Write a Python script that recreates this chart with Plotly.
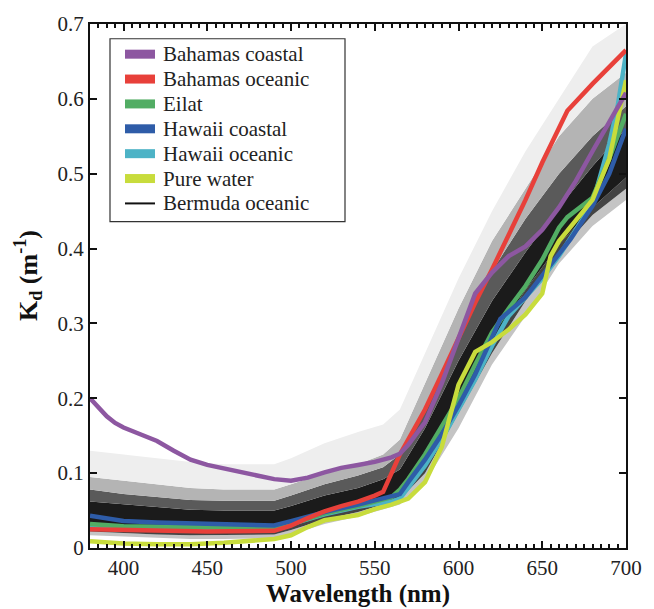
import plotly.graph_objects as go

# ---------------- data ----------------
wl_bermuda = [380, 400, 420, 440, 460, 490, 500, 520, 540, 555, 565, 580, 600, 620, 640, 660, 680, 700]
bermuda_min = [0.017, 0.015, 0.013, 0.012, 0.012, 0.013, 0.018, 0.032, 0.042, 0.052, 0.058, 0.088, 0.160, 0.245, 0.310, 0.380, 0.430, 0.465]
bermuda_p05 = [0.022, 0.020, 0.018, 0.017, 0.017, 0.018, 0.024, 0.038, 0.048, 0.058, 0.065, 0.100, 0.180, 0.260, 0.330, 0.395, 0.445, 0.480]
bermuda_p25 = [0.030, 0.028, 0.026, 0.025, 0.025, 0.025, 0.031, 0.045, 0.055, 0.066, 0.075, 0.115, 0.195, 0.275, 0.345, 0.405, 0.455, 0.495]
bermuda_p75 = [0.062, 0.058, 0.054, 0.051, 0.050, 0.050, 0.056, 0.070, 0.080, 0.092, 0.105, 0.160, 0.250, 0.330, 0.395, 0.455, 0.510, 0.560]
bermuda_p90 = [0.078, 0.072, 0.068, 0.064, 0.063, 0.063, 0.070, 0.085, 0.097, 0.108, 0.125, 0.190, 0.285, 0.370, 0.440, 0.500, 0.550, 0.590]
bermuda_p97 = [0.095, 0.090, 0.085, 0.080, 0.078, 0.078, 0.085, 0.100, 0.112, 0.125, 0.145, 0.220, 0.320, 0.410, 0.480, 0.550, 0.600, 0.635]
bermuda_max = [0.130, 0.125, 0.120, 0.115, 0.112, 0.112, 0.120, 0.140, 0.155, 0.165, 0.185, 0.260, 0.360, 0.450, 0.530, 0.600, 0.670, 0.700]

wl_bah_coastal = [380, 385, 390, 395, 400, 410, 420, 430, 440, 450, 460, 470, 480, 490, 500, 510, 520, 530, 540, 550, 560, 565, 570, 580, 590, 600, 610, 620, 630, 640, 650, 660, 670, 680, 690, 700]
bah_coastal = [0.200, 0.188, 0.176, 0.167, 0.161, 0.152, 0.143, 0.130, 0.118, 0.111, 0.106, 0.101, 0.096, 0.092, 0.090, 0.094, 0.101, 0.107, 0.111, 0.115, 0.121, 0.126, 0.138, 0.168, 0.220, 0.280, 0.340, 0.368, 0.390, 0.403, 0.425, 0.455, 0.490, 0.530, 0.570, 0.608]

wl_bah_oceanic = [380, 400, 450, 490, 500, 510, 520, 530, 540, 550, 555, 565, 580, 590, 600, 610, 620, 630, 640, 650, 665, 680, 690, 700]
bah_oceanic = [0.025, 0.024, 0.022, 0.023, 0.030, 0.040, 0.049, 0.056, 0.062, 0.070, 0.075, 0.125, 0.185, 0.232, 0.280, 0.328, 0.372, 0.418, 0.465, 0.515, 0.584, 0.620, 0.643, 0.665]

wl_eilat = [380, 400, 450, 490, 500, 520, 540, 560, 565, 570, 580, 590, 600, 610, 620, 630, 640, 650, 660, 665, 680, 690, 700]
eilat = [0.032, 0.029, 0.028, 0.026, 0.032, 0.046, 0.056, 0.068, 0.078, 0.092, 0.125, 0.162, 0.200, 0.245, 0.288, 0.320, 0.350, 0.385, 0.428, 0.442, 0.468, 0.520, 0.580]

wl_hawaii_coastal = [380, 390, 400, 420, 450, 490, 500, 520, 540, 560, 565, 570, 580, 590, 600, 610, 620, 625, 640, 655, 667, 680, 690, 700]
hawaii_coastal = [0.043, 0.039, 0.036, 0.034, 0.032, 0.030, 0.036, 0.048, 0.058, 0.068, 0.072, 0.088, 0.118, 0.152, 0.190, 0.232, 0.280, 0.306, 0.335, 0.378, 0.413, 0.457, 0.500, 0.560]

wl_hawaii_oceanic = [380, 400, 450, 490, 500, 520, 540, 560, 565, 570, 580, 590, 600, 610, 620, 630, 640, 650, 660, 670, 680, 690, 695, 700]
hawaii_oceanic = [0.030, 0.028, 0.027, 0.025, 0.032, 0.045, 0.055, 0.062, 0.066, 0.080, 0.110, 0.145, 0.185, 0.225, 0.270, 0.310, 0.335, 0.360, 0.390, 0.425, 0.460, 0.540, 0.590, 0.660]

wl_pure = [380, 390, 400, 420, 440, 460, 480, 490, 500, 510, 520, 530, 540, 550, 560, 570, 580, 590, 600, 610, 620, 630, 640, 650, 655, 660, 670, 680, 690, 700]
pure_water = [0.009, 0.007, 0.006, 0.005, 0.005, 0.007, 0.010, 0.012, 0.017, 0.028, 0.037, 0.040, 0.044, 0.052, 0.058, 0.066, 0.088, 0.135, 0.218, 0.262, 0.275, 0.292, 0.312, 0.340, 0.390, 0.410, 0.438, 0.465, 0.520, 0.625]

legend_names = ["Bahamas coastal", "Bahamas oceanic", "Eilat", "Hawaii coastal",
                "Hawaii oceanic", "Pure water", "Bermuda oceanic"]
x_ticks = [400, 450, 500, 550, 600, 650, 700]
y_ticks = [0, 0.1, 0.2, 0.3, 0.4, 0.5, 0.6, 0.7]
y_ticktext = ["0", "0.1", "0.2", "0.3", "0.4", "0.5", "0.6", "0.7"]

# ---------------- figure ----------------
SERIF = "Liberation Serif"
W, H = 654, 609
ML, MR, MT, MB = 90, 28, 15, 61
PW, PH = W - ML - MR, H - MT - MB


def px(xpix):
    return (xpix - ML) / PW


def py(ypix):
    return (H - MB - ypix) / PH


fig = go.Figure()

# Bermuda oceanic density band (layered envelopes)
bands = [
    (bermuda_min, None),
    (bermuda_p05, "#c4c4c4"),
    (bermuda_p25, "#444444"),
    (bermuda_p75, "#1b1b1b"),
    (bermuda_p90, "#5a5a5a"),
    (bermuda_p97, "#b4b4b4"),
    (bermuda_max, "#eeeeee"),
]
for yv, fc in bands:
    fig.add_trace(go.Scatter(
        x=wl_bermuda, y=yv, mode="lines",
        line=dict(width=0, color="rgba(0,0,0,0)"),
        fill=None if fc is None else "tonexty",
        fillcolor=fc, showlegend=False, hoverinfo="skip"))

colors = {
    "Bahamas coastal": "#8d57a1",
    "Bahamas oceanic": "#e8403a",
    "Eilat": "#52ad64",
    "Hawaii coastal": "#2e5ca8",
    "Hawaii oceanic": "#4db3c6",
    "Pure water": "#c8dc3c",
    "Bermuda oceanic": "#111111",
}
series = [
    ("Hawaii oceanic", wl_hawaii_oceanic, hawaii_oceanic),
    ("Eilat", wl_eilat, eilat),
    ("Hawaii coastal", wl_hawaii_coastal, hawaii_coastal),
    ("Bahamas oceanic", wl_bah_oceanic, bah_oceanic),
    ("Pure water", wl_pure, pure_water),
    ("Bahamas coastal", wl_bah_coastal, bah_coastal),
]
for name, xs, ys in series:
    fig.add_trace(go.Scatter(x=xs, y=ys, mode="lines", name=name,
                             line=dict(color=colors[name], width=4.5),
                             showlegend=False))

axis_common = dict(
    showgrid=False, zeroline=False, showline=True, linecolor="#111111",
    linewidth=2, mirror="ticks", ticks="inside", tickcolor="#111111",
    tickwidth=2, ticklen=7,
    tickfont=dict(family=SERIF, size=21, color="#222222"),
)
fig.update_xaxes(range=[380, 700], tickvals=x_ticks,
                 minor=dict(dtick=5, tick0=380, ticks="inside", ticklen=4,
                            tickwidth=1.5, tickcolor="#111111"),
                 **axis_common)
fig.update_yaxes(range=[0, 0.7], tickvals=y_ticks, ticktext=y_ticktext, **axis_common)

# hand-built legend (box, swatches and real text)
shapes = [dict(type="rect", xref="paper", yref="paper",
               x0=px(110), x1=px(345), y0=py(216), y1=py(30),
               line=dict(color="#333333", width=1.2), fillcolor="white", layer="above")]
annotations = []
for i, name in enumerate(legend_names):
    yc = 45.7 + 25.3 * i
    shapes.append(dict(type="line", xref="paper", yref="paper",
                       x0=px(125), x1=px(155), y0=py(yc), y1=py(yc),
                       line=dict(color=colors[name], width=2 if name == "Bermuda oceanic" else 9),
                       layer="above"))
    annotations.append(dict(text=name, xref="paper", yref="paper",
                            x=px(161), y=py(yc), xanchor="left", yanchor="middle",
                            showarrow=False,
                            font=dict(family=SERIF, size=21, color="#222222")))

annotations += [
    dict(text="<b>Wavelength (nm)</b>", xref="paper", yref="paper",
         x=0.5, y=0, yshift=-46, xanchor="center", yanchor="middle",
         showarrow=False, font=dict(family=SERIF, size=25, color="#111111")),
    dict(text="<b>K<sub>d</sub> (m<sup>-1</sup>)</b>", xref="paper", yref="paper",
         x=0, xshift=-62, y=0.5, yshift=10, xanchor="center", yanchor="middle",
         textangle=-90, showarrow=False,
         font=dict(family=SERIF, size=26, color="#111111")),
]

fig.update_layout(
    width=W, height=H,
    margin=dict(l=ML, r=MR, t=MT, b=MB),
    paper_bgcolor="white", plot_bgcolor="white",
    showlegend=False,
    shapes=shapes,
    annotations=annotations,
)

fig.write_html("out.html")
